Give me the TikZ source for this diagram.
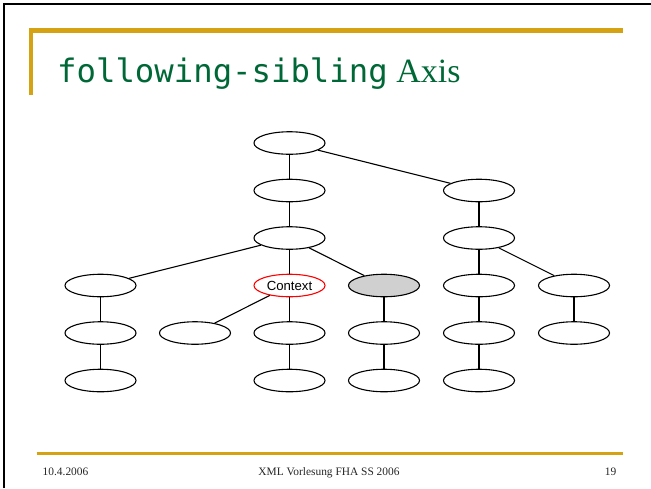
\documentclass[tikz,border=0pt]{standalone}
\usepackage{fontspec}
\setmainfont{Liberation Serif}
\newfontfamily\monofont{DejaVu Sans Mono}
\newfontfamily\nodefont{Liberation Sans}
\usetikzlibrary{shapes.geometric}

\definecolor{slidegold}{RGB}{212,162,18}
\definecolor{slidegreen}{RGB}{0,104,55}
\definecolor{shade}{RGB}{208,208,208}

\begin{document}
\begin{tikzpicture}[x=1pt, y=-1pt]
\tikzset{
  elem/.style={
    draw,
    ellipse,
    line width=1.1pt,
    minimum width=71pt,
    minimum height=22.5pt,
    inner sep=0pt,
    font=\nodefont\fontsize{13.2}{15}\selectfont
  },
  line/.style={
    draw,
    line width=1.1pt
  },
  ctx/.style={
    draw=red
  },
  sib/.style={
    fill=shade
  },
  bar/.style={
    draw=slidegold,
    line join=miter
  },
  foot/.style={
    inner sep=0pt,
    font=\fontsize{11.4}{13}\selectfont,
    text=black!85
  }
}

\useasboundingbox (0,0) rectangle (651,488);

% Frame
\draw[line width=2pt] (4.3,488) -- (4.3,4.3) -- (651,4.3);
\draw[bar, line width=4.3pt] (31,95) -- (31,30.5) -- (622.7,30.5);
\draw[bar, line width=2.5pt] (36.7,453.5) -- (622.7,453.5);

% Title
\node (title) [anchor=base west, inner sep=0pt, text=slidegreen] at (57,82)
  {{\monofont\fontsize{32.3}{40}\selectfont following-sibling}\fontsize{34}{40}\selectfont{} Axis};

% Root
\node (root) [elem] at (289.5,143) {};

% Level 1
\node (l1a) [elem] at (289.5,190.5) {};
\node (l1b) [elem] at (479,190.5) {};

% Level 2
\node (l2a) [elem] at (289.5,238) {};
\node (l2b) [elem] at (479,238) {};

% Level 3
\node (l3a) [elem] at (100.5,285.5) {};
\node (ctx) [elem, ctx] at (289.5,285.5) {Context};
\node (sib) [elem, sib] at (384,285.5) {};
\node (l3d) [elem] at (479,285.5) {};
\node (l3e) [elem] at (574,285.5) {};

% Level 4
\node (l4a) [elem] at (100.5,333) {};
\node (l4b) [elem] at (195,333) {};
\node (l4c) [elem] at (289.5,333) {};
\node (l4d) [elem] at (384,333) {};
\node (l4e) [elem] at (479,333) {};
\node (l4f) [elem] at (574,333) {};

% Level 5
\node (l5a) [elem] at (100.5,380.5) {};
\node (l5c) [elem] at (289.5,380.5) {};
\node (l5d) [elem] at (384,380.5) {};
\node (l5e) [elem] at (479,380.5) {};

% Edges
\draw[line] (root) to (l1a);
\draw[line] (root) to (l1b);
\draw[line] (l1a) to (l2a);
\draw[line] (l1b) to (l2b);
\draw[line] (l2a) to (l3a);
\draw[line] (l2a) to (ctx);
\draw[line] (l2a) to (sib);
\draw[line] (l2b) to (l3d);
\draw[line] (l2b) to (l3e);
\draw[line] (l3a) to (l4a);
\draw[line] (ctx) to (l4b);
\draw[line] (ctx) to (l4c);
\draw[line] (sib) to (l4d);
\draw[line] (l3d) to (l4e);
\draw[line] (l3e) to (l4f);
\draw[line] (l4a) to (l5a);
\draw[line] (l4c) to (l5c);
\draw[line] (l4d) to (l5d);
\draw[line] (l4e) to (l5e);

% Footer
\node (date) [foot, anchor=base west] at (42.5,475) {10.4.2006};
\node (course) [foot, anchor=base] at (329,475) {XML Vorlesung FHA SS 2006};
\node (page) [foot, anchor=base east] at (616.5,475) {19};

\end{tikzpicture}
\end{document}
